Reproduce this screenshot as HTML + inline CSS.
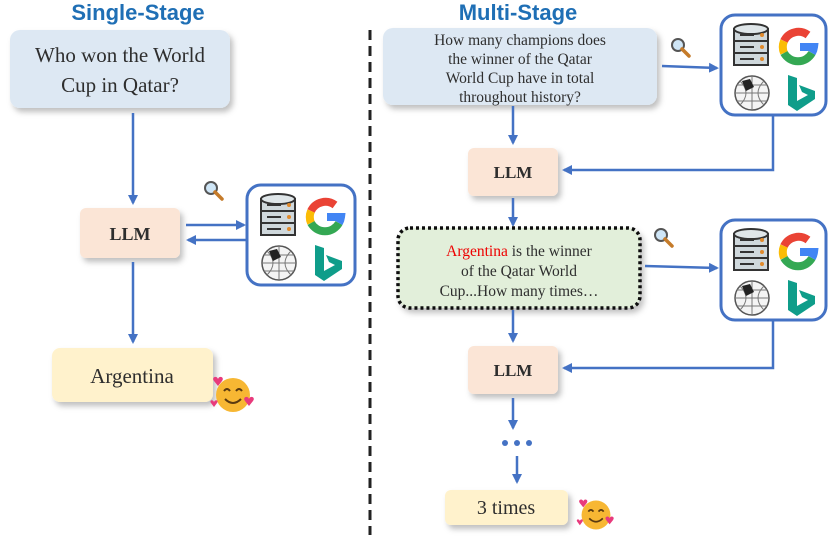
<!DOCTYPE html>
<html><head><meta charset="utf-8"><style>
html,body{margin:0;padding:0;background:#fff}
svg{display:block}
text{font-family:"Liberation Serif",serif;fill:#2e2e2e}
</style></head><body>
<svg width="830" height="554" viewBox="0 0 830 554" xmlns="http://www.w3.org/2000/svg">
<defs>
<marker id="ah" markerWidth="10" markerHeight="10" refX="8" refY="5" orient="auto" markerUnits="userSpaceOnUse">
<path d="M0,0 L10,5 L0,10 z" fill="#4472c4"/></marker>
<filter id="sh" x="-10%" y="-10%" width="130%" height="140%"><feDropShadow dx="3" dy="4" stdDeviation="3" flood-color="#000" flood-opacity="0.25"/></filter>
<g id="tools">
 <g transform="translate(14,10)">
  <rect x="0" y="4" width="34" height="36" fill="#cfd8dc" stroke="#333" stroke-width="2"/>
  <ellipse cx="17" cy="4" rx="17" ry="5" fill="#dfe6e9" stroke="#333" stroke-width="2"/>
  <line x1="0" y1="16" x2="34" y2="16" stroke="#333" stroke-width="2"/>
  <line x1="0" y1="28" x2="34" y2="28" stroke="#333" stroke-width="2"/>
  <circle cx="28" cy="10" r="2" fill="#e08a2c"/><circle cx="28" cy="22" r="2" fill="#e08a2c"/><circle cx="28" cy="34" r="2" fill="#e08a2c"/>
  <line x1="6" y1="10" x2="20" y2="10" stroke="#333" stroke-width="2"/><line x1="6" y1="22" x2="20" y2="22" stroke="#333" stroke-width="2"/><line x1="6" y1="34" x2="20" y2="34" stroke="#333" stroke-width="2"/>
 </g>
 <g transform="translate(78,32)" fill="none" stroke-width="8">
  <path d="M10,-12 A16,16 0 0 0 -14,-6" stroke="#ea4335"/>
  <path d="M-14,-6 A16,16 0 0 0 -14,6" stroke="#fbbc05"/>
  <path d="M-14,6 A16,16 0 0 0 14,6" stroke="#34a853"/>
  <path d="M14,6 A16,16 0 0 0 16,0 L2,0" stroke="#4285f4"/>
 </g>
 <g transform="translate(32,78)">
  <circle r="17" fill="#f4f4f4" stroke="#555" stroke-width="1.5"/>
  <path d="M-17,0 H17 M0,-17 V17 M-12,-12 Q0,0 -12,12 M12,-12 Q0,0 12,12 M-15,-8 H15 M-15,8 H15" stroke="#777" fill="none"/>
  <path d="M-10,-12 L-2,-14 L2,-6 L-6,-2 z" fill="#222"/>
 </g>
 <g transform="translate(68,60)">
  <path d="M0,0 L9,3 V26 L20,20 L14,17 L11,10 L27,16 V24 L9,36 L0,30 z" fill="#0f9d8a"/>
 </g>
</g>
<g id="mag">
 <circle cx="0" cy="0" r="6" fill="#cfe6f7" stroke="#555" stroke-width="2"/>
 <line x1="4" y1="4" x2="11" y2="11" stroke="#c57b2a" stroke-width="3.5" stroke-linecap="round"/>
</g>
<g id="emo">
 <circle r="17" fill="#f7b733"/>
 <path d="M-9,-4 q3,-4 6,0 M3,-4 q3,-4 6,0" stroke="#5a3a10" stroke-width="2" fill="none"/>
 <path d="M-8,4 q8,8 16,0" stroke="#5a3a10" stroke-width="2" fill="none"/>
 <path d="M-19,-14 c-3,-4 3,-6 4,-2 c1,-4 7,-2 4,2 l-4,5 z" fill="#e83a7c"/>
 <path d="M12,6 c-3,-4 3,-6 4,-2 c1,-4 7,-2 4,2 l-4,5 z" fill="#e83a7c"/>
 <path d="M-22,8 c-2,-3 2,-4 3,-1 c1,-3 5,-2 3,1 l-3,4 z" fill="#e83a7c"/>
</g>
</defs>

<text x="138" y="20" font-size="22" font-weight="bold" text-anchor="middle" style="fill:#1f6fb5;font-family:'Liberation Sans',sans-serif">Single-Stage</text>
<text x="518" y="20" font-size="22" font-weight="bold" text-anchor="middle" style="fill:#1f6fb5;font-family:'Liberation Sans',sans-serif">Multi-Stage</text>

<line x1="370" y1="30" x2="370" y2="535" stroke="#222" stroke-width="3" stroke-dasharray="10,6"/>

<rect x="10" y="30" width="220" height="78" rx="10" fill="#dde8f3" filter="url(#sh)"/>
<text x="120" y="62" font-size="21" text-anchor="middle">Who won the World</text>
<text x="120" y="92" font-size="21" text-anchor="middle">Cup in Qatar?</text>
<line x1="133" y1="113" x2="133" y2="203" stroke="#4472c4" stroke-width="2.5" marker-end="url(#ah)"/>
<rect x="80" y="208" width="100" height="50" rx="6" fill="#fbe5d6" filter="url(#sh)"/>
<text x="130" y="240" font-size="18" font-weight="bold" text-anchor="middle">LLM</text>
<line x1="186" y1="225" x2="244" y2="225" stroke="#4472c4" stroke-width="2.5" marker-end="url(#ah)"/>
<line x1="246" y1="240" x2="188" y2="240" stroke="#4472c4" stroke-width="2.5" marker-end="url(#ah)"/>
<rect x="247" y="185" width="108" height="100" rx="14" fill="#fff" stroke="#4472c4" stroke-width="3"/>
<use href="#tools" transform="translate(247,185)"/>
<use href="#mag" transform="translate(211,188)"/>
<line x1="133" y1="262" x2="133" y2="342" stroke="#4472c4" stroke-width="2.5" marker-end="url(#ah)"/>
<rect x="52" y="348" width="161" height="54" rx="8" fill="#fff2cc" filter="url(#sh)"/>
<text x="132" y="383" font-size="21" text-anchor="middle">Argentina</text>
<use href="#emo" transform="translate(233,395)"/>

<rect x="383" y="28" width="274" height="77" rx="10" fill="#dde8f3" filter="url(#sh)"/>
<text x="520" y="45" font-size="15.5" text-anchor="middle">How many champions does</text>
<text x="520" y="64" font-size="15.5" text-anchor="middle">the winner of the Qatar</text>
<text x="520" y="83" font-size="15.5" text-anchor="middle">World Cup have in total</text>
<text x="520" y="102" font-size="15.5" text-anchor="middle">throughout history?</text>
<use href="#mag" transform="translate(678,45)"/>
<line x1="662" y1="66" x2="717" y2="68" stroke="#4472c4" stroke-width="2.5" marker-end="url(#ah)"/>
<rect x="721" y="15" width="105" height="100" rx="14" fill="#fff" stroke="#4472c4" stroke-width="3"/>
<use href="#tools" transform="translate(720,15)"/>
<line x1="513" y1="106" x2="513" y2="143" stroke="#4472c4" stroke-width="2.5" marker-end="url(#ah)"/>
<rect x="468" y="148" width="90" height="48" rx="6" fill="#fbe5d6" filter="url(#sh)"/>
<text x="513" y="178" font-size="17" font-weight="bold" text-anchor="middle">LLM</text>
<polyline points="773,115 773,170 564,170" fill="none" stroke="#4472c4" stroke-width="2.5" marker-end="url(#ah)"/>
<line x1="513" y1="198" x2="513" y2="225" stroke="#4472c4" stroke-width="2.5" marker-end="url(#ah)"/>
<rect x="398" y="228" width="242" height="80" rx="12" fill="#e2efda" stroke="#111" stroke-width="3.5" stroke-dasharray="3,3" filter="url(#sh)"/>
<text x="519" y="256" font-size="15.5" text-anchor="middle"><tspan style="fill:#e00">Argentina</tspan> is the winner</text>
<text x="519" y="276" font-size="15.5" text-anchor="middle">of the Qatar World</text>
<text x="519" y="296" font-size="15.5" text-anchor="middle">Cup...How many times…</text>
<use href="#mag" transform="translate(661,235)"/>
<line x1="645" y1="266" x2="717" y2="268" stroke="#4472c4" stroke-width="2.5" marker-end="url(#ah)"/>
<rect x="721" y="220" width="105" height="100" rx="14" fill="#fff" stroke="#4472c4" stroke-width="3"/>
<use href="#tools" transform="translate(720,220)"/>
<line x1="513" y1="310" x2="513" y2="341" stroke="#4472c4" stroke-width="2.5" marker-end="url(#ah)"/>
<rect x="468" y="346" width="90" height="48" rx="6" fill="#fbe5d6" filter="url(#sh)"/>
<text x="513" y="376" font-size="17" font-weight="bold" text-anchor="middle">LLM</text>
<polyline points="773,320 773,368 564,368" fill="none" stroke="#4472c4" stroke-width="2.5" marker-end="url(#ah)"/>
<line x1="513" y1="398" x2="513" y2="428" stroke="#4472c4" stroke-width="2.5" marker-end="url(#ah)"/>
<circle cx="505" cy="443" r="3" fill="#4472c4"/><circle cx="517" cy="443" r="3" fill="#4472c4"/><circle cx="529" cy="443" r="3" fill="#4472c4"/>
<line x1="517" y1="456" x2="517" y2="482" stroke="#4472c4" stroke-width="2.5" marker-end="url(#ah)"/>
<rect x="445" y="490" width="123" height="35" rx="6" fill="#fff2cc" filter="url(#sh)"/>
<text x="506" y="514" font-size="20" text-anchor="middle">3 times</text>
<use href="#emo" transform="translate(596,515) scale(0.85)"/>
</svg>
</body></html>
